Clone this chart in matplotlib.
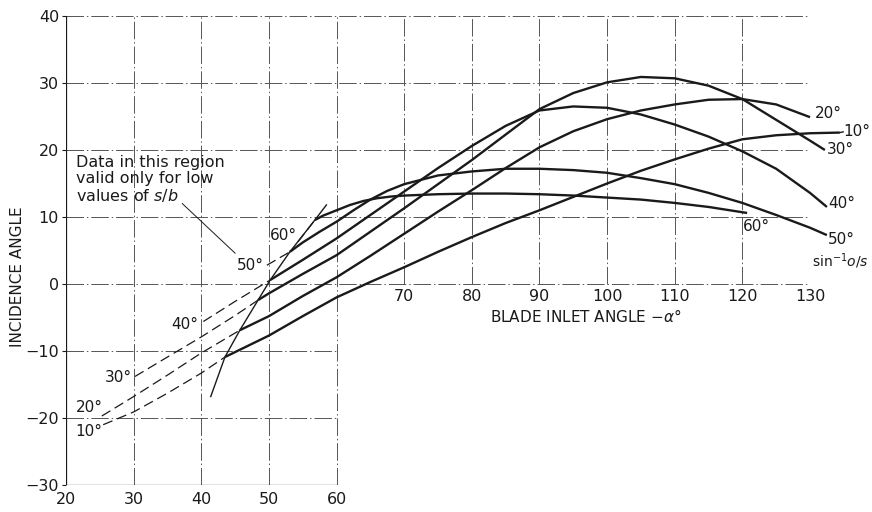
import matplotlib.pyplot as plt

# Incidence angle vs blade inlet angle, one curve per sin^-1(o/s)
# solid parts
x10 = [43.5, 50, 55, 60, 65, 70, 75, 80, 85, 90, 95, 100, 105, 110, 115, 120, 125, 130, 134.4]
y10 = [-10.9, -7.7, -4.8, -2.0, 0.3, 2.5, 4.8, 7.0, 9.1, 11.0, 13.0, 15.0, 16.9, 18.6, 20.2, 21.6, 22.2, 22.5, 22.6]

x20 = [45.7, 50, 55, 60, 65, 70, 75, 80, 85, 90, 95, 100, 105, 110, 115, 120, 125, 130]
y20 = [-6.9, -4.8, -1.8, 1.0, 4.2, 7.5, 10.8, 14.0, 17.3, 20.4, 22.8, 24.6, 25.9, 26.8, 27.5, 27.6, 26.8, 24.9]

x30 = [48.4, 50, 55, 60, 65, 70, 75, 80, 85, 90, 95, 100, 105, 110, 115, 120, 125, 130, 132.2]
y30 = [-2.4, -1.4, 1.5, 4.3, 7.8, 11.3, 14.9, 18.5, 22.3, 26.1, 28.5, 30.1, 30.9, 30.7, 29.6, 27.6, 24.5, 21.4, 20.0]

x40 = [50.2, 55, 60, 65, 70, 75, 80, 85, 90, 95, 100, 105, 110, 115, 120, 125, 130, 132.5]
y40 = [0.6, 3.6, 6.8, 10.3, 13.8, 17.3, 20.6, 23.6, 25.9, 26.5, 26.3, 25.3, 23.8, 22.0, 19.8, 17.2, 13.6, 11.5]

x50 = [53.1, 55, 57.5, 60, 62.5, 65, 67.5, 70, 75, 80, 85, 90, 95, 100, 105, 110, 115, 120, 125, 130, 132.5]
y50 = [4.8, 6.2, 7.8, 9.3, 11.0, 12.6, 13.9, 14.9, 16.2, 16.8, 17.2, 17.2, 17.0, 16.6, 15.8, 14.9, 13.6, 12.1, 10.3, 8.4, 7.3]

x60 = [56.8, 58, 60, 62, 64, 66, 68, 70, 75, 80, 85, 90, 95, 100, 105, 110, 115, 120.7]
y60 = [9.55, 10.2, 11.0, 11.8, 12.4, 12.8, 13.05, 13.2, 13.4, 13.5, 13.5, 13.4, 13.2, 12.9, 12.6, 12.1, 11.5, 10.6]

# dashed extensions (low s/b region)
dx10 = [25.5, 30, 35, 40, 43.5]
dy10 = [-21.0, -19.1, -16.3, -13.3, -10.9]
dx20 = [25.3, 30, 35, 40, 45.7]
dy20 = [-19.7, -16.8, -13.6, -10.3, -6.9]
dx30 = [30.2, 35, 40, 45, 48.4]
dy30 = [-13.8, -10.9, -7.9, -4.7, -2.4]
dx40 = [40.3, 45, 50.2]
dy40 = [-5.6, -2.6, 0.6]
dx50 = [49.7, 53.1]
dy50 = [2.8, 4.8]
dx60 = [54.3, 56.8]
dy60 = [6.3, 9.55]

# boundary line where the solid curves begin
bx = [41.4, 43.5, 45.7, 48.4, 50.2, 53.1, 56.8, 58.5]
by = [-16.8, -10.9, -6.9, -2.4, 0.6, 4.8, 9.55, 11.8]

left_ticks = [20, 30, 40, 50, 60]
right_ticks = [70, 80, 90, 100, 110, 120, 130]
y_ticks = [-30, -20, -10, 0, 10, 20, 30, 40]

fig = plt.figure(figsize=(8.72, 5.12), dpi=100)
ax = fig.add_axes([66 / 872, 1 - 485 / 512, (810 - 66) / 872, (485 - 16) / 512])
ax.set_xlim(20, 130)
ax.set_ylim(-30, 40)
for s in ax.spines.values():
    s.set_visible(False)

ink = '#1a1a1a'
gc = '#555555'
gls = (0, (18, 3, 1.5, 3))

# grid: L-shaped chart area
for x in [30, 40, 50]:
    ax.plot([x, x], [-30, 40], color=gc, lw=0.7, ls=gls)
ax.plot([60, 60], [-30, 40], color=gc, lw=0.7, ls=gls)
for x in [70, 80, 90, 100, 110, 120, 130]:
    ax.plot([x, x], [0, 40], color=gc, lw=0.7, ls=gls)
for y in [-20, -10]:
    ax.plot([20, 60], [y, y], color=gc, lw=0.7, ls=gls)
for y in [0, 10, 20, 30, 40]:
    ax.plot([20, 130], [y, y], color=gc, lw=0.7, ls=gls)
ax.plot([20, 20], [-30, 40], color=ink, lw=0.9)
ax.plot([20, 60], [-30, -30], color=ink, lw=0.9)

# ticks and labels
ax.set_yticks(y_ticks)
ax.set_yticklabels([str(v).replace('-', '\u2212') for v in y_ticks], fontsize=11.5)
ax.set_xticks(left_ticks)
ax.set_xticklabels([str(v) for v in left_ticks], fontsize=11.5)
ax.tick_params(axis='y', length=3, width=0.8, pad=2, colors=ink)
ax.tick_params(axis='x', length=0, pad=5, colors=ink)
for x in right_ticks:
    ax.text(x, -1.9, str(x), ha='center', va='center', fontsize=11.5, color=ink)

ax.text(96.9, -4.9, r'BLADE INLET ANGLE $-\alpha$°', ha='center', va='center', fontsize=11, color=ink)
fig.text(0.02, 0.459, 'INCIDENCE ANGLE', rotation=90, ha='center', va='center', fontsize=11, color=ink)

# curves
for xs, ys in [(x10, y10), (x20, y20), (x30, y30), (x40, y40), (x50, y50), (x60, y60)]:
    ax.plot(xs, ys, color=ink, lw=1.7, solid_capstyle='butt', solid_joinstyle='round', clip_on=False)
for xs, ys in [(dx10, dy10), (dx20, dy20), (dx30, dy30), (dx40, dy40), (dx50, dy50), (dx60, dy60)]:
    ax.plot(xs, ys, color=ink, lw=0.9, ls=(0, (8, 4)), clip_on=False)
ax.plot(bx, by, color=ink, lw=1.0)

# curve labels
lab = dict(fontsize=11, color=ink, va='center', clip_on=False)
ax.text(23.3, -22.0, '10°', ha='center', **lab)
ax.text(23.5, -18.5, '20°', ha='center', **lab)
ax.text(27.7, -14.0, '30°', ha='center', **lab)
ax.text(37.6, -6.0, '40°', ha='center', **lab)
ax.text(47.3, 2.7, '50°', ha='center', **lab)
ax.text(52.2, 7.2, '60°', ha='center', **lab)
ax.text(130.7, 25.4, '20°', ha='left', **lab)
ax.plot([134.4, 134.9], [22.6, 22.7], color=ink, lw=1.0, clip_on=False)
ax.text(134.9, 22.8, '10°', ha='left', **lab)
ax.text(132.5, 20.1, '30°', ha='left', **lab)
ax.text(132.7, 12.0, '40°', ha='left', **lab)
ax.text(132.7, 6.6, '50°', ha='left', **lab)
ax.text(130.3, 3.4, r'sin$^{-1}\mathit{o/s}$', ha='left', fontsize=10, color=ink,
        va='center', clip_on=False)
ax.text(120.1, 8.6, '60°', ha='left', **lab)

# note with leader line
ax.text(21.5, 19.2, 'Data in this region\nvalid only for low\nvalues of $\\mathit{s/b}$',
        ha='left', va='top', fontsize=11.5, color=ink, linespacing=1.05)
ax.plot([37.2, 45.0], [12.0, 4.6], color=ink, lw=0.7)

plt.savefig('out.png', dpi=100)
